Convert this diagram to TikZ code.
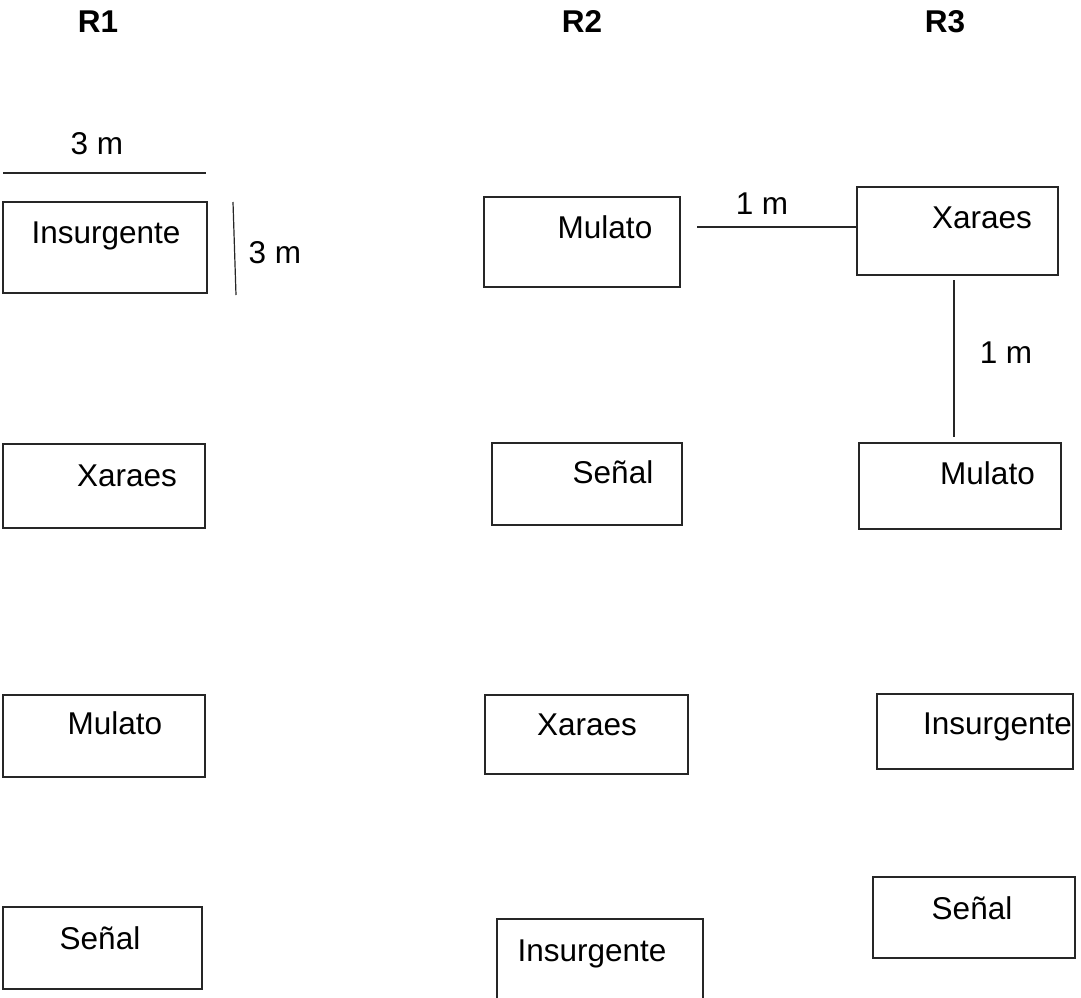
\documentclass[tikz,border=0pt]{standalone}
\usepackage{fontspec}
\setmainfont{Liberation Sans}
\begin{document}
\begin{tikzpicture}[x=1pt,y=-1pt,
  box/.style={draw=black!85, line width=1.3pt, rectangle, inner sep=0pt, outer sep=0pt},
  lbl/.style={inner sep=0pt, text height=22.5pt, text depth=0pt, font=\fontsize{31.5}{36}\selectfont},
  head/.style={lbl, font=\fontsize{31.5}{36}\selectfont\bfseries},
  dimline/.style={line width=1.2pt, draw=black!85}]
\useasboundingbox (0,0) rectangle (1081,998);
% headings
\node[head] (r1) at (98,21) {R1};
\node[head] (r2) at (582,21) {R2};
\node[head] (r3) at (945,21) {R3};
% R1 column
\node[box, minimum width=204pt, minimum height=91pt] (ins1) at (105,247.5) {};
\node[box, minimum width=202pt, minimum height=84pt] (xar1) at (104,486) {};
\node[box, minimum width=202pt, minimum height=82pt] (mul1) at (104,736) {};
\node[box, minimum width=199pt, minimum height=82pt] (sen1) at (102.5,948) {};
\node[lbl] (tins1) at (106,232) {Insurgente};
\node[lbl] (txar1) at (127,475) {Xaraes};
\node[lbl] (tmul1) at (115,723) {Mulato};
\node[lbl] (tsen1) at (100,938) {Señal};
% R2 column
\node[box, minimum width=196pt, minimum height=90pt] (mul2) at (582,242) {};
\node[box, minimum width=190pt, minimum height=82pt] (sen2) at (587,484) {};
\node[box, minimum width=203pt, minimum height=79pt] (xar2) at (586.5,734.5) {};
\node[box, minimum width=206pt, minimum height=93pt] (ins2) at (600,965.5) {};
\node[lbl] (tmul2) at (605,227.5) {Mulato};
\node[lbl] (tsen2) at (613,472) {Señal};
\node[lbl] (txar2) at (587,724) {Xaraes};
\node[lbl] (tins2) at (592,950) {Insurgente};
% R3 column
\node[box, minimum width=201pt, minimum height=88pt] (xar3) at (957.5,231) {};
\node[box, minimum width=202pt, minimum height=86pt] (mul3) at (960,486) {};
\node[box, minimum width=196pt, minimum height=75pt] (ins3) at (975,731.5) {};
\node[box, minimum width=202pt, minimum height=81pt] (sen3) at (974,917.5) {};
\node[lbl] (txar3) at (982,217) {Xaraes};
\node[lbl] (tmul3) at (987.5,473) {Mulato};
\node[lbl] (tins3) at (997.5,723) {Insurgente};
\node[lbl] (tsen3) at (972,908) {Señal};
% dimension lines
\coordinate (topA) at (3,173);
\coordinate (topB) at (206,173);
\draw[dimline] (topA) -- (topB);
\node[lbl] (d3a) at (97,143) {3 m};
\coordinate (sideA) at (233,202);
\coordinate (sideB) at (236,295);
\draw[dimline] (sideA) -- (sideB);
\node[lbl] (d3b) at (275,252.5) {3 m};
\coordinate (hA) at (697,227);
\draw[dimline] (hA) -- (xar3.west |- hA);
\node[lbl] (d1a) at (762,203) {1 m};
\coordinate (vA) at (954,280);
\coordinate (vB) at (954,437);
\draw[dimline] (vA) -- (vB);
\node[lbl] (d1b) at (1006,352) {1 m};
\end{tikzpicture}
\end{document}
